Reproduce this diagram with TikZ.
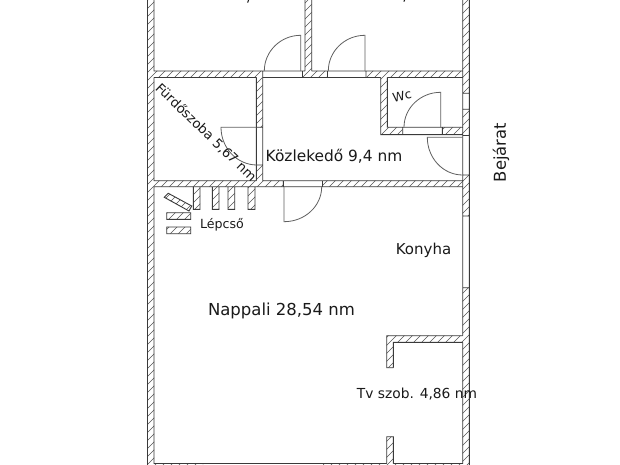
\documentclass[tikz,border=0pt]{standalone}
\usepackage{fontspec}
\setmainfont{DejaVu Sans}
\definecolor{wallc}{HTML}{3A3A3A}
\definecolor{hatchc}{HTML}{555555}
\definecolor{doorc}{HTML}{606060}
\definecolor{textc}{HTML}{1A1A1A}
\newcommand{\wallrects}{
  (147.5,-3) rectangle (154,468)
  (154,71) rectangle (262.5,77.5)
  (302.5,71) rectangle (327.5,77.5)
  (305,-3) rectangle (311.7,71)
  (366,71) rectangle (462.7,77.5)
  (462.7,-3) rectangle (469.3,93.3)
  (462.7,109.3) rectangle (469.3,135.5)
  (462.7,175) rectangle (469.3,216)
  (462.7,287.7) rectangle (469.3,468)
  (256.3,77.5) rectangle (262.7,127.3)
  (256.3,165) rectangle (262.7,180.7)
  (154,180.7) rectangle (283.3,186.7)
  (322.5,180.7) rectangle (462.7,186.7)
  (193.3,186.7) rectangle (200,209.3)
  (212.3,186.7) rectangle (219,209.3)
  (228,186.7) rectangle (234.7,209.3)
  (248,186.7) rectangle (255,209.3)
  (380.7,77.5) rectangle (387.3,134.7)
  (387.3,127.3) rectangle (402.7,134.7)
  (442.3,127.3) rectangle (462.7,134.7)
  (386.7,335.7) rectangle (462.7,342.3)
  (386.7,342.3) rectangle (393.3,367.7)
  (386.7,436.7) rectangle (393.3,463.5)
  (154,463.5) rectangle (203,468)
  (323,463.5) rectangle (462.7,468)
  (166.7,212.7) rectangle (190.7,219.3)
  (166.7,227) rectangle (190.7,233.7)
  (164.3,197.3) -- (168.3,193.3) -- (191.7,206) -- (189,211) -- cycle
}
\tikzset{
  outline/.style={draw=wallc,line width=0.9pt},
  hatchline/.style={draw=hatchc,line width=0.55pt},
  doorleaf/.style={draw=doorc,line width=0.8pt},
  label/.style={text=textc,inner sep=0pt,outer sep=0pt,anchor=center},
}
\begin{document}
\begin{tikzpicture}[x=1pt,y=-1pt]
\useasboundingbox (0,0) rectangle (620,465);
\fill[white] (0,0) rectangle (620,465);
\begin{scope}
  \clip (0,0) rectangle (620,465);
  % hatching
  \begin{scope}
    \clip \wallrects;
    \foreach \k in {140,148,...,940} \draw[hatchline] (\k,0) -- (\k-468,468);
  \end{scope}
  % wall outlines
  \draw[outline]
    (147.5,-3) -- (147.5,468)
    (154,-3) -- (154,71) -- (256.3,71)
    (154,71) -- (262.5,71)
    (154,77.5) -- (256.3,77.5)
    (154,77.5) -- (154,180.7) -- (256.3,180.7)
    (256.3,77.5) -- (256.3,180.7)
    (262.7,71) -- (262.7,180.7)
    (256.3,127.3) -- (262.7,127.3)
    (256.3,165) -- (262.7,165)
    % top wall door gaps
    (262.5,71) -- (305,71) (262.5,77.5) -- (380.7,77.5)
    (302.5,71) -- (302.5,77.5) (327.5,71) -- (327.5,77.5)
    (311.7,71) -- (462.7,71) (366,71) -- (366,77.5)
    (305,-3) -- (305,71) (311.7,-3) -- (311.7,71)
    (387.3,77.5) -- (462.7,77.5)
    (462.7,-3) -- (462.7,335.7)
    (469.3,-3) -- (469.3,468)
    (462.7,93.3) -- (469.3,93.3) (462.7,109.3) -- (469.3,109.3)
    (462.7,135.5) -- (469.3,135.5) (462.7,175) -- (469.3,175)
    (462.7,216) -- (469.3,216) (462.7,287.7) -- (469.3,287.7)
    % WC
    (380.7,77.5) -- (380.7,134.7) -- (462.7,134.7)
    (387.3,77.5) -- (387.3,127.3) -- (462.7,127.3)
    (402.7,127.3) -- (402.7,134.7) (442.3,127.3) -- (442.3,134.7)
    % middle wall
    (262.7,180.7) -- (462.7,180.7)
    (283.3,180.7) -- (283.3,186.7) (322.5,180.7) -- (322.5,186.7)
    (154,186.7) -- (193.3,186.7) (200,186.7) -- (212.3,186.7)
    (219,186.7) -- (228,186.7) (234.7,186.7) -- (248,186.7)
    (255,186.7) -- (462.7,186.7)
    (193.3,186.7) rectangle (200,209.3)
    (212.3,186.7) rectangle (219,209.3)
    (228,186.7) rectangle (234.7,209.3)
    (248,186.7) rectangle (255,209.3)
    (154,186.7) -- (154,463.5) -- (386.7,463.5)
    (166.7,212.7) rectangle (190.7,219.3)
    (166.7,227) rectangle (190.7,233.7)
    (164.3,197.3) -- (168.3,193.3) -- (191.7,206) -- (189,211) -- cycle
    % TV room
    (462.7,342.3) -- (462.7,463.5) -- (393.3,463.5)
    (393.3,367.7) -- (393.3,342.3) -- (462.7,342.3)
    (462.7,335.7) -- (386.7,335.7) -- (386.7,367.7) -- (393.3,367.7)
    (386.7,463.5) -- (386.7,436.7) -- (393.3,436.7) -- (393.3,463.5);
  % doors
  \draw[doorleaf] (300.7,71) -- (300.7,35.3) .. controls (280.6,35.3) and (264.3,51.3) .. (264.3,71);
  \draw[doorleaf] (365,71) -- (365,35.3) .. controls (344.7,35.3) and (328.3,51.3) .. (328.3,71);
  \draw[doorleaf] (440.7,127.3) -- (440.7,92.3) .. controls (420.4,92.3) and (404,108) .. (404,127.3);
  \draw[doorleaf] (256.3,127.3) -- (221,127.3) .. controls (221,148) and (237,165) .. (257,165);
  \draw[doorleaf] (284,186.7) -- (284,221.7) .. controls (305,221.7) and (321.7,206) .. (321.7,186.7);
  \draw[doorleaf] (462.7,137.3) -- (427.3,137.3) .. controls (427.3,158) and (443,175) .. (462.7,175);
  % clipped-off label tails at the top edge
  \draw[textc,line width=1pt] (248.6,0) -- (247.6,2.6);
  \draw[textc,line width=1pt] (404.6,0) -- (403.8,1.6);
  % labels
  \node[label,font=\fontsize{13.2}{15}\selectfont,rotate=-44] (furdo) at (206,132.5) {Fürdőszoba 5,67 nm};
  \node[label,font=\fontsize{15.4}{17}\selectfont] (kozl) at (334,156.5) {Közlekedő 9,4 nm};
  \node[label,font=\fontsize{12.4}{13}\selectfont,rotate=12] (wc) at (402,96) {Wc};
  \node[label,font=\fontsize{12.6}{13}\selectfont] (lepcso) at (222,225) {Lépcső};
  \node[label,font=\fontsize{15}{17}\selectfont] (konyha) at (423.5,250.5) {Konyha};
  \node[label,font=\fontsize{16.5}{18}\selectfont] (nappali) at (281.5,310.5) {Nappali 28,54 nm};
  \node[label,font=\fontsize{13.8}{15}\selectfont] (tv) at (417,394) {Tv szob. 4,86 nm};
  \node[label,font=\fontsize{16.4}{17}\selectfont,rotate=90] (bejarat) at (501,152.5) {Bejárat};
\end{scope}
\end{tikzpicture}
\end{document}
